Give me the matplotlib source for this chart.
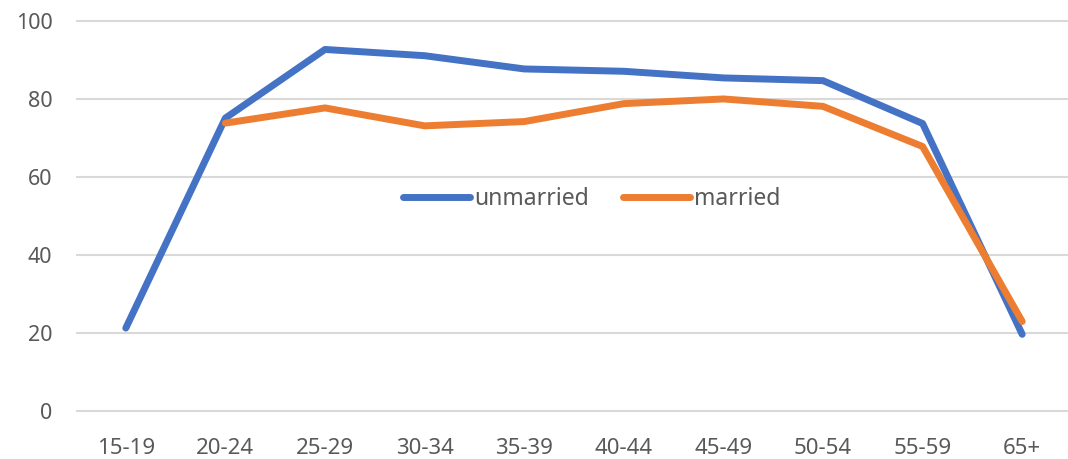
import matplotlib.pyplot as plt
from matplotlib.ticker import MultipleLocator

age_groups = ['15-19', '20-24', '25-29', '30-34', '35-39', '40-44', '45-49', '50-54', '55-59', '65+']
unmarried = [21.2, 75.1, 92.7, 91.1, 87.7, 87.1, 85.4, 84.7, 73.7, 19.6]
married = [None, 73.8, 77.7, 73.1, 74.2, 78.8, 80.0, 78.1, 67.8, 22.9]

plt.rcParams['font.family'] = ['Noto Sans', 'DejaVu Sans']

fig = plt.figure(figsize=(10.68, 4.59), dpi=100)
ax = fig.add_axes([76 / 1068, 0.0882, 996 / 1068, 0.883])

x = list(range(len(age_groups)))
ax.plot(x, unmarried, color='#4472C4', lw=5, solid_capstyle='round',
        solid_joinstyle='round', label='unmarried')
mx = [i for i, v in zip(x, married) if v is not None]
my = [v for v in married if v is not None]
ax.plot(mx, my, color='#ED7D31', lw=5, solid_capstyle='round',
        solid_joinstyle='round', label='married')

ax.set_xlim(-0.5, len(age_groups) - 0.5)
ax.set_ylim(-2, 102)
ax.yaxis.set_major_locator(MultipleLocator(20))
ax.set_xticks(x)
ax.set_xticklabels(age_groups)
ax.grid(axis='y', color='#d9d9d9', lw=1.5)
ax.set_axisbelow(True)
for s in ax.spines.values():
    s.set_visible(False)
ax.tick_params(length=0, labelsize=15.5, colors='#595959')
ax.tick_params(axis='y', pad=17)
ax.tick_params(axis='x', pad=14, labelsize=16)

ax.legend(loc='center', bbox_to_anchor=(592 / 1068, 1 - 199 / 459),
          bbox_transform=fig.transFigure, ncol=2, frameon=False,
          fontsize=16.5, labelcolor='#595959', handlelength=2.9,
          handletextpad=0.2, columnspacing=1.5)

fig.savefig('out.png', dpi=100)
